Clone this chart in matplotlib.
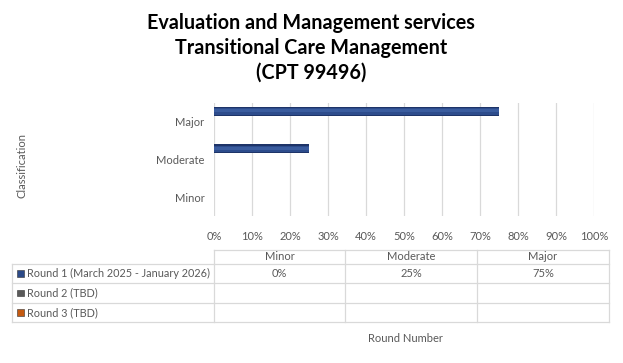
import matplotlib
matplotlib.use("Agg")
import matplotlib.pyplot as plt
import numpy as np

# ---------------- data ----------------
categories = ["Minor", "Moderate", "Major"]
series_names = ["Round 1 (March 2025 - January 2026)", "Round 2 (TBD)", "Round 3 (TBD)"]
round1 = [0, 25, 75]
round2 = [None, None, None]
round3 = [None, None, None]
series_colors = ["#2c4a88", "#5a5a5a", "#c55a11"]
xticks = np.arange(0, 101, 10)

title = "Evaluation and Management services\nTransitional Care Management\n(CPT 99496)"

W, H = 623, 363
plt.rcParams['font.family'] = ['Lato', 'DejaVu Sans']
fig = plt.figure(figsize=(W / 100, H / 100), dpi=100)

txt_col = "#595959"
grid_col = "#d9d9d9"

# ---------------- bar chart ----------------
x0, x1 = 214, 594
ytop, ybot = 103, 216
ax = fig.add_axes([x0 / W, 1 - ybot / H, (x1 - x0) / W, (ybot - ytop) / H])
ypos = np.arange(len(categories))
off = 0.28
hb = 0.24
vals = np.array(round1, dtype=float)
# bevelled look: dark outer, body, soft highlight
ax.barh(ypos + off, vals, height=hb, color="#1e3468", zorder=3)
ax.barh(ypos + off, vals, height=hb * 0.72, color="#2d4c8c", zorder=4)
ax.barh(ypos + off + 0.015, vals, height=hb * 0.3, color="#3a5c9e", zorder=5)

ax.set_xlim(0, 100)
ax.set_ylim(-0.5, 2.5)
ax.set_xticks(xticks)
ax.set_xticklabels([f"{v}%" for v in xticks])
ax.set_yticks(ypos)
ax.set_yticklabels(categories)
ax.tick_params(axis="both", length=0, labelsize=8, labelcolor=txt_col)
ax.tick_params(axis="x", pad=11)
ax.tick_params(axis="y", pad=7)
ax.xaxis.grid(True, color=grid_col, linewidth=0.9)
ax.set_axisbelow(True)
for s in ax.spines.values():
    s.set_visible(False)

fig.text(311 / W, 1 - 48 / H, title, ha="center", va="center", fontsize=14.2,
         fontweight="bold", linespacing=1.3, color="black")
fig.text(22 / W, 1 - 165 / H, "Classification", rotation=90, ha="center",
         va="center", fontsize=8, color=txt_col)

# ---------------- data table ----------------
tab = fig.add_axes([0, 0, 1, 1])
tab.set_xlim(0, W)
tab.set_ylim(H, 0)
tab.axis("off")
col_x = [12, 214, 345, 477, 609]
row_y = [250, 264, 283, 303, 322]
lw = 0.9
# header row only over data columns
tab.plot([col_x[1], col_x[-1]], [row_y[0], row_y[0]], color=grid_col, lw=lw)
for y in row_y[1:]:
    tab.plot([col_x[0], col_x[-1]], [y, y], color=grid_col, lw=lw)
tab.plot([col_x[0], col_x[0]], [row_y[1], row_y[-1]], color=grid_col, lw=lw)
for x in col_x[1:]:
    tab.plot([x, x], [row_y[0], row_y[-1]], color=grid_col, lw=lw)

for i, c in enumerate(categories):
    cx = (col_x[i + 1] + col_x[i + 2]) / 2
    tab.text(cx, (row_y[0] + row_y[1]) / 2, c, ha="center", va="center",
             fontsize=8, color=txt_col)

all_series = [round1, round2, round3]
for r, (name, vals_r, col) in enumerate(zip(series_names, all_series, series_colors)):
    cy = (row_y[r + 1] + row_y[r + 2]) / 2
    tab.add_patch(plt.Rectangle((17, cy - 3.5), 6.5, 6.5, facecolor=col,
                                edgecolor="#333333", lw=0.4))
    tab.text(27, cy, name, ha="left", va="center", fontsize=7.8, color=txt_col)
    for i, v in enumerate(vals_r):
        if v is None:
            continue
        cx = (col_x[i + 1] + col_x[i + 2]) / 2
        tab.text(cx, cy, f"{v}%", ha="center", va="center", fontsize=8, color=txt_col)

tab.text(405, 339, "Round Number", ha="center", va="center", fontsize=8, color=txt_col)

fig.savefig("out.png", dpi=100)
